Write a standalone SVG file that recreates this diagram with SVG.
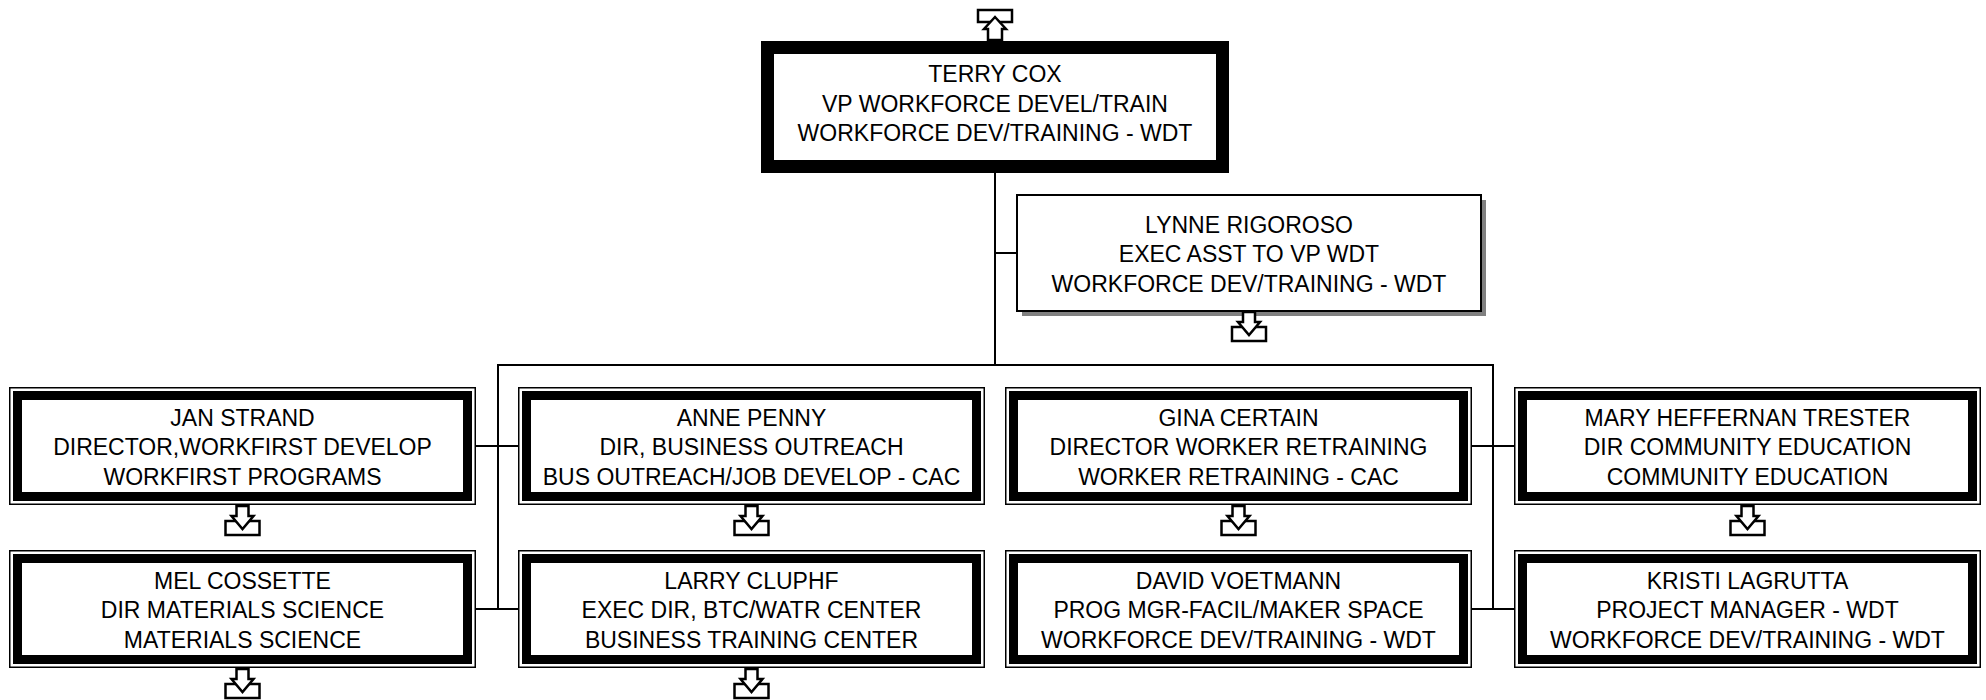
<svg xmlns="http://www.w3.org/2000/svg" width="1986" height="700" viewBox="0 0 1986 700">
<style>
text{font-family:"Liberation Sans",Arial,sans-serif;font-size:23px;fill:#000;text-anchor:middle}
.outer{fill:#fff;stroke:#000;stroke-width:1.5}
.band{fill:none;stroke:#000;stroke-width:9}
.conn{fill:none;stroke:#000;stroke-width:2}
.ic{fill:#fff;stroke:#000;stroke-width:2.5;stroke-linejoin:miter}
</style>
<defs>
<g id="down">
<rect class="ic" x="-17" y="16" width="34" height="14"/>
<polygon class="ic" points="-6,1 6,1 6,11 11,11 0,24 -11,11 -6,11"/>
</g>
<g id="box2">
<rect class="outer" x="0.75" y="0.75" width="465.5" height="116.5"/>
<rect class="band" x="8.5" y="8.5" width="450" height="101"/>
</g>
</defs>
<g id="connectors">
<line class="conn" x1="995" y1="173" x2="995" y2="366"/>
<line class="conn" x1="995" y1="253" x2="1017" y2="253"/>
<line class="conn" x1="497" y1="365" x2="1494" y2="365"/>
<line class="conn" x1="498" y1="364" x2="498" y2="610"/>
<line class="conn" x1="1493" y1="364" x2="1493" y2="610"/>
<line class="conn" x1="476" y1="446" x2="518" y2="446"/>
<line class="conn" x1="476" y1="609" x2="518" y2="609"/>
<line class="conn" x1="1472" y1="446" x2="1514" y2="446"/>
<line class="conn" x1="1472" y1="609" x2="1514" y2="609"/>
</g>
<g id="terry">
<rect x="761" y="41" width="468" height="132" fill="#000"/>
<rect x="773" y="53" width="444" height="108" fill="#fff" stroke="#000" stroke-width="2"/>
<rect class="ic" x="978" y="10" width="34" height="12"/>
<polygon class="ic" points="988,40 1002,40 1002,29 1006,29 995,17 984,29 988,29"/>
<text x="995" y="82">TERRY COX</text>
<text x="995" y="111.5">VP WORKFORCE DEVEL/TRAIN</text>
<text x="995" y="141">WORKFORCE DEV/TRAINING - WDT</text>
</g>
<g id="lynne">
<rect x="1022" y="200" width="464" height="116" fill="#808080"/>
<rect x="1017" y="195" width="464" height="116" fill="#fff" stroke="#000" stroke-width="2"/>
<use href="#down" x="1249" y="311"/>
<text x="1249" y="232.5">LYNNE RIGOROSO</text>
<text x="1249" y="262">EXEC ASST TO VP WDT</text>
<text x="1249" y="291.5">WORKFORCE DEV/TRAINING - WDT</text>
</g>
<g id="jan">
<use href="#box2" x="9" y="387"/>
<use href="#down" x="242.5" y="505"/>
<text x="242.5" y="425.5">JAN STRAND</text>
<text x="242.5" y="455">DIRECTOR,WORKFIRST DEVELOP</text>
<text x="242.5" y="484.5">WORKFIRST PROGRAMS</text>
</g>
<g id="anne">
<use href="#box2" x="518" y="387"/>
<use href="#down" x="751.5" y="505"/>
<text x="751.5" y="425.5">ANNE PENNY</text>
<text x="751.5" y="455">DIR, BUSINESS OUTREACH</text>
<text x="751.5" y="484.5">BUS OUTREACH/JOB DEVELOP - CAC</text>
</g>
<g id="gina">
<use href="#box2" x="1005" y="387"/>
<use href="#down" x="1238.5" y="505"/>
<text x="1238.5" y="425.5">GINA CERTAIN</text>
<text x="1238.5" y="455">DIRECTOR WORKER RETRAINING</text>
<text x="1238.5" y="484.5">WORKER RETRAINING - CAC</text>
</g>
<g id="mary">
<use href="#box2" x="1514" y="387"/>
<use href="#down" x="1747.5" y="505"/>
<text x="1747.5" y="425.5">MARY HEFFERNAN TRESTER</text>
<text x="1747.5" y="455">DIR COMMUNITY EDUCATION</text>
<text x="1747.5" y="484.5">COMMUNITY EDUCATION</text>
</g>
<g id="mel">
<use href="#box2" x="9" y="550"/>
<use href="#down" x="242.5" y="668"/>
<text x="242.5" y="588.5">MEL COSSETTE</text>
<text x="242.5" y="618">DIR MATERIALS SCIENCE</text>
<text x="242.5" y="647.5">MATERIALS SCIENCE</text>
</g>
<g id="larry">
<use href="#box2" x="518" y="550"/>
<use href="#down" x="751.5" y="668"/>
<text x="751.5" y="588.5">LARRY CLUPHF</text>
<text x="751.5" y="618">EXEC DIR, BTC/WATR CENTER</text>
<text x="751.5" y="647.5">BUSINESS TRAINING CENTER</text>
</g>
<g id="david">
<use href="#box2" x="1005" y="550"/>
<text x="1238.5" y="588.5">DAVID VOETMANN</text>
<text x="1238.5" y="618">PROG MGR-FACIL/MAKER SPACE</text>
<text x="1238.5" y="647.5">WORKFORCE DEV/TRAINING - WDT</text>
</g>
<g id="kristi">
<use href="#box2" x="1514" y="550"/>
<text x="1747.5" y="588.5">KRISTI LAGRUTTA</text>
<text x="1747.5" y="618">PROJECT MANAGER - WDT</text>
<text x="1747.5" y="647.5">WORKFORCE DEV/TRAINING - WDT</text>
</g>
</svg>
